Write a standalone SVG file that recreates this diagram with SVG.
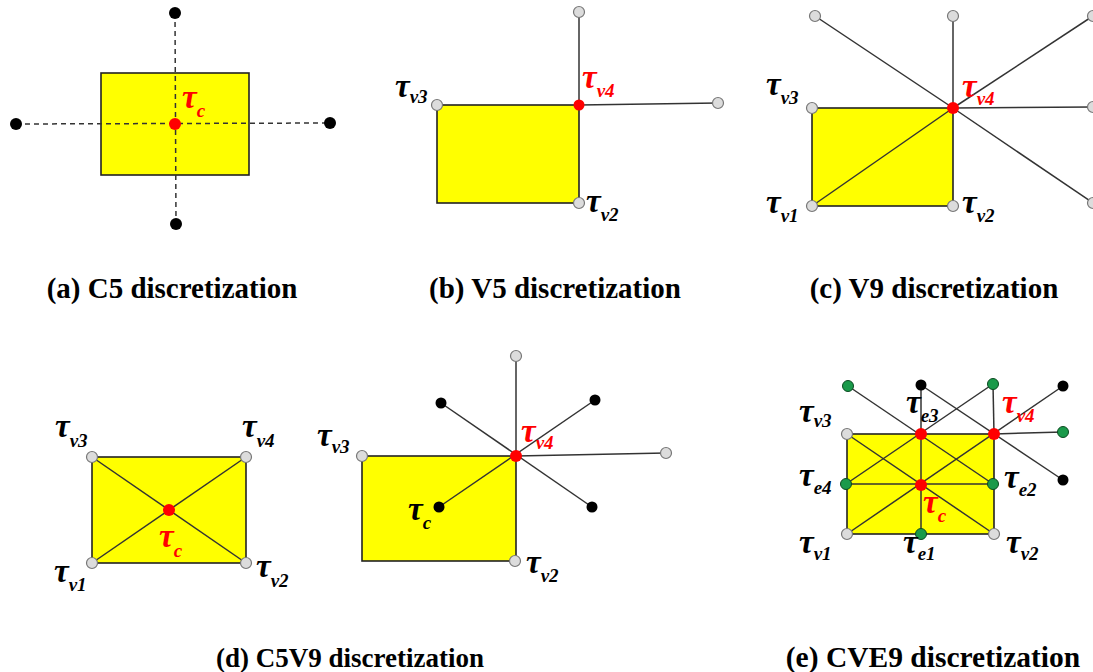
<svg xmlns="http://www.w3.org/2000/svg" width="1093" height="672" viewBox="0 0 1093 672">
<style>
.rect{fill:#ffff00;stroke:#222;stroke-width:1.6}
.ln{stroke:#333;stroke-width:1.5;fill:none}
.dash{stroke:#333;stroke-width:1.5;stroke-dasharray:5 4;fill:none}
.blk{fill:#000}
.red{fill:#ff0000}
.gry{fill:#dcdcdc;stroke:#777;stroke-width:1.2}
.grn{fill:#1a9a4a;stroke:#0b4a20;stroke-width:1}
.lab{font-family:"Liberation Serif",serif;font-weight:bold;font-style:italic;font-size:33px;fill:#000}
.lab tspan{font-size:19px}
.labr{fill:#ff0000}
.cap{font-family:"Liberation Serif",serif;font-weight:bold;font-size:29px;fill:#000;text-anchor:middle}
</style>
<rect width="1093" height="672" fill="#fff"/>

<!-- (a) C5 -->
<g id="panel-a">
<rect class="rect" x="101" y="73" width="148" height="102"/>
<g id="a-connectors">
<line class="dash" x1="175" y1="13" x2="176" y2="224"/>
<line class="dash" x1="16" y1="124" x2="330" y2="123"/>
</g>
<g id="a-n-top"><circle class="blk" cx="175" cy="13" r="6"/></g>
<g id="a-n-bottom"><circle class="blk" cx="176" cy="224" r="6"/></g>
<g id="a-n-left"><circle class="blk" cx="16" cy="124" r="6"/></g>
<g id="a-n-right"><circle class="blk" cx="330" cy="123" r="6"/></g>
<g id="a-n-c"><circle class="red" cx="175" cy="124" r="6"/>
<text class="lab labr" x="182" y="108">τ<tspan dy="9">c</tspan></text></g>
<text class="cap" x="172" y="298">(a) C5 discretization</text>
</g>

<!-- (b) V5 -->
<g id="panel-b">
<rect class="rect" x="437" y="105" width="142" height="98"/>
<g id="b-connectors">
<line class="ln" x1="579" y1="12" x2="579" y2="105"/>
<line class="ln" x1="579" y1="105" x2="718" y2="103"/>
</g>
<g id="b-n-top"><circle class="gry" cx="579" cy="12" r="5.5"/></g>
<g id="b-n-right"><circle class="gry" cx="718" cy="103" r="5.5"/></g>
<g id="b-n-v3"><circle class="gry" cx="437" cy="105" r="5.5"/>
<text class="lab" x="395" y="97">τ<tspan dy="6">v3</tspan></text></g>
<g id="b-n-v2"><circle class="gry" cx="579" cy="203" r="5.5"/>
<text class="lab" x="586" y="212">τ<tspan dy="9">v2</tspan></text></g>
<g id="b-n-v4"><circle class="red" cx="579" cy="105" r="5.5"/>
<text class="lab labr" x="582" y="88">τ<tspan dy="9">v4</tspan></text></g>
<text class="cap" x="555" y="298">(b) V5 discretization</text>
</g>

<!-- (c) V9 -->
<g id="panel-c">
<rect class="rect" x="812" y="108" width="141" height="98"/>
<g id="c-connectors">
<line class="ln" x1="812" y1="206" x2="953" y2="108"/>
<line class="ln" x1="815" y1="16" x2="953" y2="108"/>
<line class="ln" x1="953" y1="16" x2="953" y2="108"/>
<line class="ln" x1="1093" y1="16" x2="953" y2="108"/>
<line class="ln" x1="1093" y1="107" x2="953" y2="108"/>
<line class="ln" x1="1093" y1="203" x2="953" y2="108"/>
</g>
<g id="c-n-tl"><circle class="gry" cx="815" cy="16" r="5.5"/></g>
<g id="c-n-t"><circle class="gry" cx="953" cy="16" r="5.5"/></g>
<g id="c-n-tr"><circle class="gry" cx="1093" cy="16" r="5.5"/></g>
<g id="c-n-r"><circle class="gry" cx="1093" cy="107" r="5.5"/></g>
<g id="c-n-br"><circle class="gry" cx="1093" cy="203" r="5.5"/></g>
<g id="c-n-v3"><circle class="gry" cx="812" cy="108" r="5.5"/>
<text class="lab" x="766" y="95">τ<tspan dy="9">v3</tspan></text></g>
<g id="c-n-v1"><circle class="gry" cx="812" cy="206" r="5.5"/>
<text class="lab" x="766" y="213">τ<tspan dy="9">v1</tspan></text></g>
<g id="c-n-v2"><circle class="gry" cx="953" cy="206" r="5.5"/>
<text class="lab" x="962" y="213">τ<tspan dy="9">v2</tspan></text></g>
<g id="c-n-v4"><circle class="red" cx="953" cy="108" r="6"/>
<text class="lab labr" x="962" y="97">τ<tspan dy="8">v4</tspan></text></g>
<text class="cap" x="934" y="298">(c) V9 discretization</text>
</g>

<!-- (d) C5V9 left -->
<g id="panel-d1">
<rect class="rect" x="92" y="457" width="154" height="106"/>
<g id="d1-connectors">
<line class="ln" x1="92" y1="457" x2="246" y2="563"/>
<line class="ln" x1="92" y1="563" x2="246" y2="457"/>
</g>
<g id="d1-n-v3"><circle class="gry" cx="92" cy="457" r="5.5"/>
<text class="lab" x="55" y="437">τ<tspan dy="10">v3</tspan></text></g>
<g id="d1-n-v4"><circle class="gry" cx="246" cy="457" r="5.5"/>
<text class="lab" x="242" y="437">τ<tspan dy="10">v4</tspan></text></g>
<g id="d1-n-v1"><circle class="gry" cx="92" cy="563" r="5.5"/>
<text class="lab" x="54" y="582">τ<tspan dy="9">v1</tspan></text></g>
<g id="d1-n-v2"><circle class="gry" cx="246" cy="563" r="5.5"/>
<text class="lab" x="256" y="577">τ<tspan dy="10">v2</tspan></text></g>
<g id="d1-n-c"><circle class="red" cx="169" cy="510" r="6"/>
<text class="lab labr" x="159" y="547">τ<tspan dy="10">c</tspan></text></g>
</g>

<!-- (d) C5V9 right -->
<g id="panel-d2">
<rect class="rect" x="362" y="456" width="154" height="105"/>
<g id="d2-connectors">
<line class="ln" x1="516" y1="356" x2="516" y2="456"/>
<line class="ln" x1="516" y1="456" x2="666" y2="453"/>
<line class="ln" x1="441" y1="403" x2="592" y2="507"/>
<line class="ln" x1="439" y1="507" x2="595" y2="400"/>
</g>
<g id="d2-n-top"><circle class="gry" cx="516" cy="356" r="5.5"/></g>
<g id="d2-n-right"><circle class="gry" cx="666" cy="453" r="5.5"/></g>
<g id="d2-n-ul"><circle class="blk" cx="441" cy="403" r="5.5"/></g>
<g id="d2-n-ur"><circle class="blk" cx="595" cy="400" r="5.5"/></g>
<g id="d2-n-lr"><circle class="blk" cx="592" cy="507" r="5.5"/></g>
<g id="d2-n-c"><circle class="blk" cx="439" cy="507" r="5.5"/>
<text class="lab" x="408" y="520">τ<tspan dy="9">c</tspan></text></g>
<g id="d2-n-v3"><circle class="gry" cx="362" cy="456" r="5.5"/>
<text class="lab" x="317" y="446">τ<tspan dy="7">v3</tspan></text></g>
<g id="d2-n-v2"><circle class="gry" cx="515" cy="561" r="5.5"/>
<text class="lab" x="526" y="573">τ<tspan dy="9">v2</tspan></text></g>
<g id="d2-n-v4"><circle class="red" cx="516" cy="456" r="6"/>
<text class="lab labr" x="521" y="442">τ<tspan dy="7">v4</tspan></text></g>
<text class="cap" x="350" y="667" style="font-size:27px">(d) C5V9 discretization</text>
</g>

<!-- (e) CVE9 -->
<g id="panel-e">
<rect class="rect" x="847" y="434" width="147" height="100"/>
<g id="e-connectors">
<line class="ln" x1="848" y1="386" x2="993" y2="484"/>
<line class="ln" x1="846" y1="484" x2="993" y2="384"/>
<line class="ln" x1="921" y1="385" x2="921" y2="534"/>
<line class="ln" x1="921" y1="385" x2="1063" y2="480"/>
<line class="ln" x1="847" y1="534" x2="1063" y2="386"/>
<line class="ln" x1="847" y1="434" x2="994" y2="534"/>
<line class="ln" x1="846" y1="484" x2="993" y2="484"/>
<line class="ln" x1="994" y1="434" x2="993" y2="384"/>
<line class="ln" x1="994" y1="434" x2="1063" y2="432"/>
</g>
<g id="e-n-tl"><circle class="grn" cx="848" cy="386" r="5.5"/></g>
<g id="e-n-tb"><circle class="blk" cx="921" cy="385" r="5.5"/></g>
<g id="e-n-tg"><circle class="grn" cx="993" cy="384" r="5.5"/></g>
<g id="e-n-tr"><circle class="blk" cx="1063" cy="386" r="5.5"/></g>
<g id="e-n-r"><circle class="grn" cx="1063" cy="432" r="5.5"/></g>
<g id="e-n-br"><circle class="blk" cx="1063" cy="480" r="5.5"/></g>
<g id="e-n-v3"><circle class="gry" cx="847" cy="434" r="5.5"/>
<text class="lab" x="799" y="422">τ<tspan dy="5">v3</tspan></text></g>
<g id="e-n-v1"><circle class="gry" cx="847" cy="534" r="5.5"/>
<text class="lab" x="799" y="553">τ<tspan dy="7">v1</tspan></text></g>
<g id="e-n-v2"><circle class="gry" cx="994" cy="534" r="5.5"/>
<text class="lab" x="1006" y="553">τ<tspan dy="7">v2</tspan></text></g>
<g id="e-n-e4"><circle class="grn" cx="846" cy="484" r="5.5"/>
<text class="lab" x="799" y="486">τ<tspan dy="8">e4</tspan></text></g>
<g id="e-n-e2"><circle class="grn" cx="993" cy="484" r="5.5"/>
<text class="lab" x="1004" y="488">τ<tspan dy="8">e2</tspan></text></g>
<g id="e-n-e1"><circle class="grn" cx="921" cy="534" r="5.5"/>
<text class="lab" x="903" y="553">τ<tspan dy="7">e1</tspan></text></g>
<g id="e-n-e3"><circle class="red" cx="921" cy="434" r="6"/>
<text class="lab" x="906" y="413">τ<tspan dy="9">e3</tspan></text></g>
<g id="e-n-v4"><circle class="red" cx="994" cy="434" r="6"/>
<text class="lab labr" x="1002" y="413">τ<tspan dy="9">v4</tspan></text></g>
<g id="e-n-c"><circle class="red" cx="921" cy="485" r="6"/>
<text class="lab labr" x="923" y="513">τ<tspan dy="9">c</tspan></text></g>
<text class="cap" x="933" y="667" style="font-size:29.5px">(e) CVE9 discretization</text>
</g>
</svg>
